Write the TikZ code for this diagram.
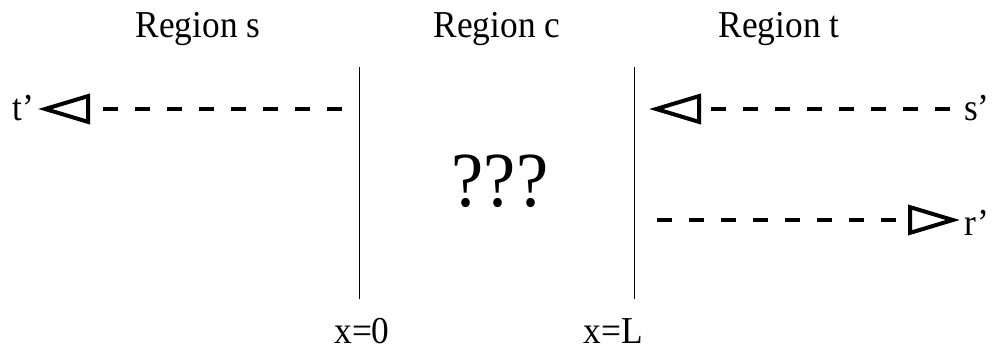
\documentclass[tikz,border=0pt]{standalone}
\usepackage{fontspec}
\setmainfont{Liberation Serif}[FakeStretch=0.93]
\usetikzlibrary{arrows.meta}
\begin{document}
\begin{tikzpicture}[x=1pt,y=-1pt,
  lbl/.style={inner sep=0pt,anchor=base,font=\fontsize{38}{44}\selectfont},
  wall/.style={line width=1pt},
  wave/.style={line width=4pt,dash pattern=on 15pt off 17pt,
    -{Triangle[open,length=52pt,width=30pt,line join=miter]}}]
\useasboundingbox (0,0) rectangle (1007,351);
% labels
\node[lbl] (rs) at (198,37) {Region s};
\node[lbl] (rc) at (497,37) {Region c};
\node[lbl] (rt) at (779,37) {Region t};
\node[lbl] (x0) at (362,343) {x=0};
\node[lbl] (xL) at (613,343) {x=L};
\node[lbl,font=\fontsize{78}{86}\selectfont] (q) at (500,206) {???};
\node[lbl,anchor=base west] (tp) at (12,120) {t’};
\node[lbl,anchor=base west] (sp) at (964,120) {s’};
\node[lbl,anchor=base west] (rp) at (964,235) {r’};
% walls
\coordinate (w1t) at (359,67);
\coordinate (w1b) at (359,299);
\coordinate (w2t) at (634,67);
\coordinate (w2b) at (634,299);
\draw[wall] (w1t) -- (w1b);
\draw[wall] (w2t) -- (w2b);
% waves
\coordinate (a1) at (342,109);
\coordinate (a1e) at (38,109);
\coordinate (a2) at (950,109);
\coordinate (a2e) at (649,109);
\coordinate (a3) at (657,220);
\coordinate (a3e) at (960,220);
\draw[wave] (a1) -- (a1e);
\draw[wave] (a2) -- (a2e);
\draw[wave] (a3) -- (a3e);
\end{tikzpicture}
\end{document}
